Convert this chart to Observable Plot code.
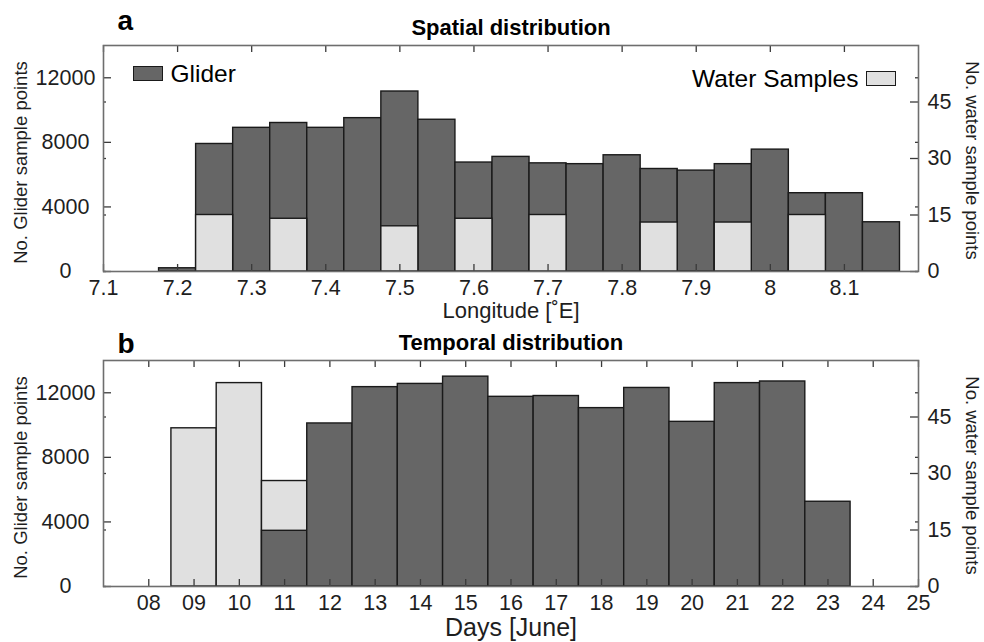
<!DOCTYPE html>
<html><head><meta charset="utf-8">
<script src="https://cdn.jsdelivr.net/npm/d3@7"></script>
<script src="https://cdn.jsdelivr.net/npm/@observablehq/plot@0.6"></script>
<style>
body{margin:0;background:#fff;font-family:"Liberation Sans",Arial,sans-serif;}
#wrap{position:relative;width:984px;height:642px;overflow:hidden;}
.panel{position:absolute;left:0;}
.sw{position:absolute;box-sizing:border-box;border:1.4px solid #1a1a1a;}
</style></head><body><div id="wrap"></div>
<script>
// ---- Panel a: spatial distribution (bins of 0.05° longitude) ----
const lonCenters = [7.20, 7.25, 7.30, 7.35, 7.40, 7.45, 7.50, 7.55, 7.60, 7.65,
                    7.70, 7.75, 7.80, 7.85, 7.90, 7.95, 8.00, 8.05, 8.10, 8.15];
const lonGlider  = [200, 7900, 8900, 9200, 8900, 9500, 11150, 9400, 6750, 7100,
                    6700, 6650, 7200, 6350, 6250, 6650, 7550, 4850, 4850, 3050];
const lonWater   = [0, 15, 0, 14, 0, 0, 12, 0, 14, 0,
                    15, 0, 0, 13, 0, 13, 0, 15, 0, 0];
const lonTicks   = [7.1, 7.2, 7.3, 7.4, 7.5, 7.6, 7.7, 7.8, 7.9, 8.0, 8.1];

// ---- Panel b: temporal distribution (days of June) ----
const days       = [9, 10, 11, 12, 13, 14, 15, 16, 17, 18, 19, 20, 21, 22, 23];
const dayGlider  = [0, 0, 3450, 10100, 12350, 12550, 13000, 11750, 11800, 11050, 12300, 10200, 12600, 12700, 5250];
const dayWater   = [42, 54, 28, 0, 0, 0, 0, 0, 0, 0, 0, 0, 0, 0, 0];
const dayTicks   = [8, 9, 10, 11, 12, 13, 14, 15, 16, 17, 18, 19, 20, 21, 22, 23, 24, 25];

// ---- shared axes ----
const gliderTicks = [0, 4000, 8000, 12000];
const waterTicks  = [0, 15, 30, 45];
const gliderMax = 14000, waterMax = 60;

const FONT = '"Liberation Sans", Arial, Helvetica, sans-serif';
const W = 984, ML = 103, MR = 66, MT = 45, H0 = 315, MB = 44;
const FW = W - ML - MR, FH = H0 - MT - MB;
const DARK = "#666666", LIGHT = "#e0e0e0", EDGE = "#1a1a1a", AX = "#6e6e6e", TK = "#3a3a3a", TXT = "#1e1e1e";

function panel(o) {
  const k = gliderMax / waterMax;
  const rows = o.bins.map((c, i) => ({x1: c - o.bw / 2, x2: c + o.bw / 2, g: o.glider[i], w: o.water[i] * k}));
  const dark = Plot.rectY(rows.filter(d => d.g > 0), {x1: "x1", x2: "x2", y1: 0, y2: "g", fill: DARK, stroke: EDGE, strokeWidth: 1.4});
  const light = Plot.rectY(rows.filter(d => d.w > 0), {x1: "x1", x2: "x2", y1: 0, y2: "w", fill: LIGHT, stroke: EDGE, strokeWidth: 1.4});
  const wScaled = waterTicks.map(v => v * k);
  const marks = [
    ...(o.waterOnTop ? [dark, light] : [light, dark]),
    // inward tick marks (box style)
    Plot.tickX(o.xTicks, {x: d => d, insetTop: FH - 7, stroke: TK, strokeWidth: 1.3}),
    Plot.tickX(o.xTicks, {x: d => d, insetBottom: FH - 7, stroke: TK, strokeWidth: 1.3}),
    Plot.tickY(gliderTicks, {y: d => d, insetRight: FW - 8, stroke: TK, strokeWidth: 1.3}),
    Plot.tickY(gliderTicks, {y: d => d, insetLeft: FW - 3, stroke: TK, strokeWidth: 1.3}),
    Plot.tickY(wScaled, {y: d => d, insetLeft: FW - 8, stroke: TK, strokeWidth: 1.3}),
    Plot.tickY(wScaled, {y: d => d, insetRight: FW - 3, stroke: TK, strokeWidth: 1.3}),
    Plot.frame({stroke: AX, strokeWidth: 1.6}),
    // tick labels
    Plot.axisX({ticks: o.xTicks, tickFormat: o.xFormat, tickSize: 0, tickPadding: 8, fontSize: 21.5, fill: TXT, label: null}),
    Plot.axisY({anchor: "left", ticks: gliderTicks, tickFormat: d3.format("d"), tickSize: 0, tickPadding: 38, textAnchor: "middle", fontSize: 21.5, fill: TXT, label: null}),
    Plot.axisY({anchor: "right", ticks: wScaled, tickFormat: v => String(Math.round(v / k)), tickSize: 0, tickPadding: 9, fontSize: 21.5, fill: TXT, label: null}),
    // titles and labels
    Plot.text([o.title], {frameAnchor: "top", dy: -11, lineAnchor: "bottom", textAnchor: "middle", fontWeight: "bold", fontSize: 22, fill: "#000"}),
    Plot.text([o.letter], {frameAnchor: "top-left", dx: 14, dy: o.letterDy, lineAnchor: "bottom", textAnchor: "start", fontWeight: "bold", fontSize: 28, fill: "#000"}),
    Plot.text([o.xLabel], {frameAnchor: "bottom", dy: o.xLabelDy, lineAnchor: "bottom", textAnchor: "middle", fontSize: o.xLabelSize, fill: TXT}),
    Plot.text(["No. Glider sample points"], {frameAnchor: "left", dx: -82, dy: 4, rotate: -90, textAnchor: "middle", lineAnchor: "middle", fontSize: 18.5, fill: TXT}),
    Plot.text(["No. water sample points"], {frameAnchor: "right", dx: 53, dy: 2, rotate: 90, textAnchor: "middle", lineAnchor: "middle", fontSize: 18.5, fill: TXT})
  ];
  if (o.legend) {
    marks.push(Plot.text(["Glider"], {frameAnchor: "top-left", dx: 67, dy: 36, lineAnchor: "bottom", textAnchor: "start", fontSize: 24.5, fill: "#000"}));
    marks.push(Plot.text(["Water Samples"], {frameAnchor: "top-right", dx: -60, dy: 41, lineAnchor: "bottom", textAnchor: "end", fontSize: 24.5, fill: "#000"}));
  }
  return Plot.plot({
    width: W, height: o.height, marginLeft: ML, marginRight: MR, marginTop: MT, marginBottom: o.height - MT - FH,
    x: {domain: o.xDomain}, y: {domain: [0, gliderMax]},
    style: {fontFamily: FONT, background: "transparent", overflow: "visible"},
    marks
  });
}

const wrap = document.getElementById("wrap");
const a = panel({bins: lonCenters, bw: 0.05, glider: lonGlider, water: lonWater, waterOnTop: true,
  xDomain: [7.1, 8.2], xTicks: lonTicks, xFormat: d => String(+d.toFixed(1)),
  title: "Spatial distribution", letter: "a", letterDy: -16, xLabel: "Longitude [˚E]", xLabelDy: 46, xLabelSize: 22, legend: true, height: 322});
a.classList.add("panel"); a.style.top = "0px"; wrap.appendChild(a);

const b = panel({bins: days, bw: 1, glider: dayGlider, water: dayWater, waterOnTop: false,
  xDomain: [7, 25], xTicks: dayTicks, xFormat: d3.format("02d"),
  title: "Temporal distribution", letter: "b", letterDy: -8, xLabel: "Days [June]", xLabelDy: 49, xLabelSize: 25, legend: false, height: 327});
b.classList.add("panel"); b.style.top = "315px"; wrap.appendChild(b);

// legend swatches
function swatch(x, y, fill) {
  const s = document.createElement("div"); s.className = "sw";
  Object.assign(s.style, {left: x + "px", top: y + "px", width: "30px", height: "15px", background: fill});
  wrap.appendChild(s);
}
swatch(133, 66, DARK);
swatch(866, 71, LIGHT);
</script></body></html>
